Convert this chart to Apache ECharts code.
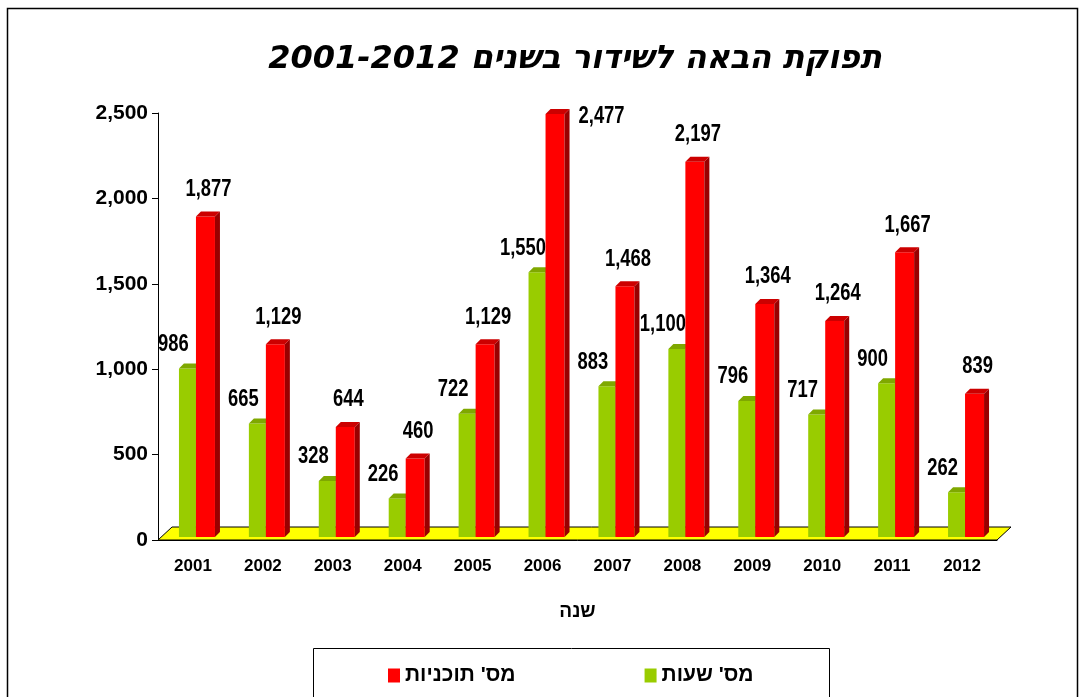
<!DOCTYPE html>
<html>
<head>
<meta charset="utf-8">
<script src="https://cdn.jsdelivr.net/npm/echarts@6/dist/echarts.min.js"></script>
<style>
  html, body { margin: 0; padding: 0; background: #fff; }
  #chart { width: 1088px; height: 697px; }
</style>
</head>
<body>
<div id="chart" dir="rtl"></div>
<script>
const years = ["2001", "2002", "2003", "2004", "2005", "2006", "2007", "2008", "2009", "2010", "2011", "2012"];
const hours = [986, 665, 328, 226, 722, 1550, 883, 1100, 796, 717, 900, 262];
const programs = [1877, 1129, 644, 460, 1129, 2477, 1468, 2197, 1364, 1264, 1667, 839];
const yMin = 0, yMax = 2500, yStep = 500;

const hoursName = "מס' שעות";
const programsName = "מס' תוכניות";
const titleText = "תפוקת הבאה לשידור בשנים 2001-2012";

const numFont = "'Liberation Sans', Arial, sans-serif";
const fmt = (v) => v.toLocaleString("en-US");

/* 3D bar: front face + side + top, label on top (narrowed like the original) */
function bar3d(x0, x1, colors, labelDx, labelDy) {
  return function (params, api) {
    const i = api.value(0), v = api.value(1);
    const c = api.coord([i, v]);
    const b = api.coord([i, 0]);
    const top = api.coord([i, yMax])[1];
    const left = c[0] + x0, right = c[0] + x1;
    const yTop = c[1] - 3, yBot = b[1] - 3;
    const d = 5;
    let lx = (left + right) / 2 + labelDx, ly = yTop - labelDy, align = "center";
    if (ly < top - 10) { lx = right + d + 9; ly = yTop + 3; align = "left"; }
    return {
      type: "group",
      children: [
        { type: "rect", shape: { x: left, y: yTop, width: right - left, height: yBot - yTop }, style: { fill: colors[0] } },
        { type: "polygon", shape: { points: [[right, yTop], [right + d, yTop - d], [right + d, yBot - d], [right, yBot]] }, style: { fill: colors[1] } },
        { type: "polygon", shape: { points: [[left, yTop], [left + d, yTop - d], [right + d, yTop - d], [right, yTop]] }, style: { fill: colors[2] } },
        { type: "text", x: lx, y: ly, scaleX: 0.8, style: { text: fmt(v), align: align, verticalAlign: "middle", font: "bold 23px " + numFont, fill: "#000" } }
      ]
    };
  };
}

function floor(params, api) {
  const a = api.coord([0, 0]);
  const w = api.size([1, 0])[0];
  const xL = a[0] - w / 2, xR = xL + w * years.length, y = a[1];
  return {
    type: "polygon",
    shape: { points: [[xL, y], [xL + 14, y - 13], [xR + 14, y - 13], [xR, y]] },
    style: { fill: "#FFFF00", stroke: "#000", lineWidth: 1 }
  };
}

const chart = echarts.init(document.getElementById("chart"));
chart.setOption({
  backgroundColor: "#fff",
  animation: false,
  grid: { left: 158, right: 91, top: 113, bottom: 157 },
  xAxis: {
    type: "category",
    data: years,
    name: "שנה",
    nameLocation: "middle",
    nameGap: 62,
    nameTextStyle: { fontFamily: "'Liberation Sans', sans-serif", fontWeight: "bold", fontSize: 19, color: "#000" },
    axisLine: { lineStyle: { color: "#000", width: 1 } },
    axisTick: { length: 6, lineStyle: { color: "#000" } },
    axisLabel: { margin: 18, fontFamily: numFont, fontWeight: "bold", fontSize: 17, color: "#000" }
  },
  yAxis: {
    type: "value",
    min: yMin, max: yMax, interval: yStep,
    splitLine: { show: false },
    axisLine: { show: true, lineStyle: { color: "#000", width: 1 } },
    axisTick: { show: true, length: 6, lineStyle: { color: "#000" } },
    axisLabel: { margin: 10, formatter: (v) => fmt(v), fontFamily: numFont, fontWeight: "bold", fontSize: 21, color: "#000" }
  },
  legend: {
    data: [programsName, hoursName],
    left: 383, top: 660,
    icon: "rect", itemWidth: 12, itemHeight: 14, itemGap: 129,
    textStyle: { fontFamily: "'Liberation Sans', sans-serif", fontWeight: "bold", fontSize: 21, color: "#000" }
  },
  graphic: [
    { type: "rect", shape: { x: 7.5, y: 8.5, width: 1070, height: 720 }, style: { fill: null, stroke: "#000", lineWidth: 1.5 }, silent: true },
    { type: "rect", shape: { x: 313.5, y: 648.5, width: 516, height: 80 }, style: { fill: null, stroke: "#000", lineWidth: 1 }, silent: true },
    { type: "text", x: 575, y: 60, style: { text: titleText, align: "center", verticalAlign: "middle", font: "italic bold 32px 'DejaVu Sans', sans-serif", fill: "#000" } }
  ],
  series: [
    { type: "custom", name: "floor", z: 1, data: [[0, 0]], renderItem: floor, silent: true },
    {
      type: "custom", name: hoursName, z: 2,
      itemStyle: { color: "#99CC00" },
      data: hours.map((v, i) => [i, v]),
      renderItem: bar3d(-14, 3, ["#99CC00", "#6B8E00", "#7FA800"], -14, 24)
    },
    {
      type: "custom", name: programsName, z: 3,
      itemStyle: { color: "#FF0000" },
      data: programs.map((v, i) => [i, v]),
      renderItem: bar3d(3, 22, ["#FF0000", "#990000", "#CC0000"], 3, 27)
    }
  ]
});
</script>
</body>
</html>
